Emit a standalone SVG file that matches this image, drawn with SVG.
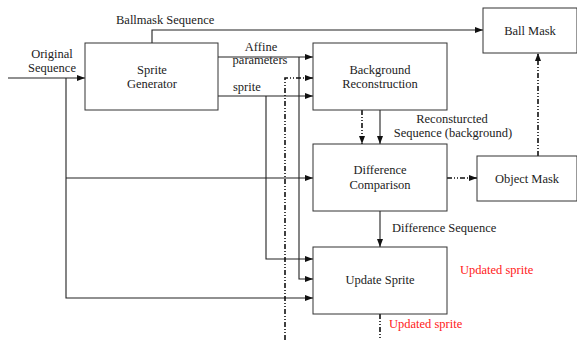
<svg xmlns="http://www.w3.org/2000/svg" width="577" height="340" viewBox="0 0 577 340">
<defs>
<style>
text{font-family:"Liberation Serif","Times New Roman",serif;font-size:12.5px;fill:#222}
.c{text-anchor:middle}
.red{fill:#ff2020}
rect{fill:#fff;stroke:#333;stroke-width:1}
.l{fill:none;stroke:#222;stroke-width:1.1}
.d{fill:none;stroke:#111;stroke-width:1.6;stroke-dasharray:5 2 1 2 1 2}
</style>
<marker id="a" markerWidth="8" markerHeight="6" refX="8" refY="3" orient="auto" markerUnits="userSpaceOnUse">
<path d="M0,0 L8,3 L0,6 Z" fill="#111"/>
</marker>
</defs>
<rect width="577" height="340" fill="#fff" style="stroke:none"/>
<g id="connectors">
<path class="l" d="M8,78 H85" marker-end="url(#a)"/>
<path class="l" d="M66,78 V298 H313" marker-end="url(#a)"/>
<path class="l" d="M66,178 H313" marker-end="url(#a)"/>
<path class="l" d="M152,43 V30 H483" marker-end="url(#a)"/>
<path class="l" d="M218,57 H313" marker-end="url(#a)"/>
<path class="l" d="M299,57 V279 H313" marker-end="url(#a)"/>
<path class="l" d="M218,96 H313" marker-end="url(#a)"/>
<path class="l" d="M266,96 V259 H313" marker-end="url(#a)"/>
<path class="d" d="M285,340 V78 H313" marker-end="url(#a)"/>
<path class="l" d="M380,110 V144" marker-end="url(#a)"/>
<path class="d" d="M362,110 V144" marker-end="url(#a)"/>
<path class="d" d="M447,178 H477" marker-end="url(#a)"/>
<path class="d" d="M538,156 V53" marker-end="url(#a)"/>
<path class="l" d="M380,211 V247" marker-end="url(#a)"/>
<path class="d" d="M380,314 V340"/>
</g>
<g id="sprite-generator">
<rect x="85" y="43" width="133" height="67"/>
<text class="c" x="152" y="74">Sprite</text>
<text class="c" x="152" y="88">Generator</text>
</g>
<g id="background-reconstruction">
<rect x="313" y="43" width="134" height="67"/>
<text class="c" x="380" y="74">Background</text>
<text class="c" x="380" y="88">Reconstruction</text>
</g>
<g id="ball-mask">
<rect x="483" y="8" width="94" height="45"/>
<text class="c" x="530" y="35">Ball Mask</text>
</g>
<g id="difference-comparison">
<rect x="313" y="144" width="134" height="67"/>
<text class="c" x="380" y="174">Difference</text>
<text class="c" x="380" y="189">Comparison</text>
</g>
<g id="object-mask">
<rect x="477" y="156" width="100" height="45"/>
<text class="c" x="527" y="183">Object Mask</text>
</g>
<g id="update-sprite">
<rect x="313" y="247" width="134" height="67"/>
<text class="c" x="380" y="284">Update Sprite</text>
</g>
<g id="labels">
<text class="c" x="52" y="58">Original</text>
<text class="c" x="52" y="72">Sequence</text>
<text x="116" y="24">Ballmask Sequence</text>
<text class="c" x="261" y="51">Affine</text>
<text class="c" x="260" y="64">parameters</text>
<text x="233" y="91">sprite</text>
<text class="c" x="452" y="123">Reconsturcted</text>
<text class="c" x="453" y="137">Sequence (background)</text>
<text x="392" y="232">Difference Sequence</text>
<text class="red" x="460" y="274">Updated sprite</text>
<text class="red" x="389" y="328">Updated sprite</text>
</g>
</svg>
